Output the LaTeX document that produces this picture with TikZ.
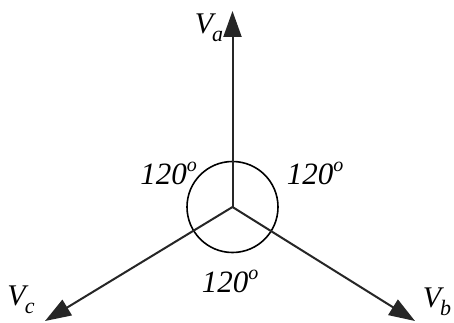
\documentclass[tikz,border=0pt]{standalone}
\usepackage{fontspec}
\setmainfont{Liberation Serif}
\usetikzlibrary{arrows.meta}
\newcommand{\phlabel}[2]{\textit{#1\kern-1pt\raisebox{-0.28em}{\fontsize{22}{22}\selectfont #2}}}
\newcommand{\deglabel}{\textit{120\raisebox{0.42em}{\fontsize{20}{20}\selectfont o}}}
\tikzset{
  phasor/.style={line width=2pt, draw=black!85, -{Triangle[length=26pt,width=18pt]}},
  vlbl/.style={inner sep=0pt, font=\fontsize{30}{30}\selectfont},
  dlbl/.style={inner sep=0pt, font=\fontsize{31}{31}\selectfont},
}
\begin{document}
\begin{tikzpicture}[x=1pt,y=-1pt]
\useasboundingbox[fill=white] (0,0) rectangle (454,323);
\coordinate (O) at (232.5,207);
\coordinate (A) at (232.5,11);
\coordinate (B) at (415,321);
\coordinate (C) at (45,321);
\draw[line width=1.6pt] (O) circle (45.5);
\draw[phasor] (O) -- (A);
\draw[phasor] (O) -- (B);
\draw[phasor] (O) -- (C);
\node[vlbl] (va) at (209,28) {\phlabel{V}{a}};
\node[vlbl] (vb) at (437,302) {\phlabel{V}{b}};
\node[vlbl] (vc) at (21,300) {\phlabel{V}{c}};
\node[dlbl] (d1) at (168.5,173) {\deglabel};
\node[dlbl] (d2) at (315,173) {\deglabel};
\node[dlbl] (d3) at (230,281) {\deglabel};
\end{tikzpicture}
\end{document}
